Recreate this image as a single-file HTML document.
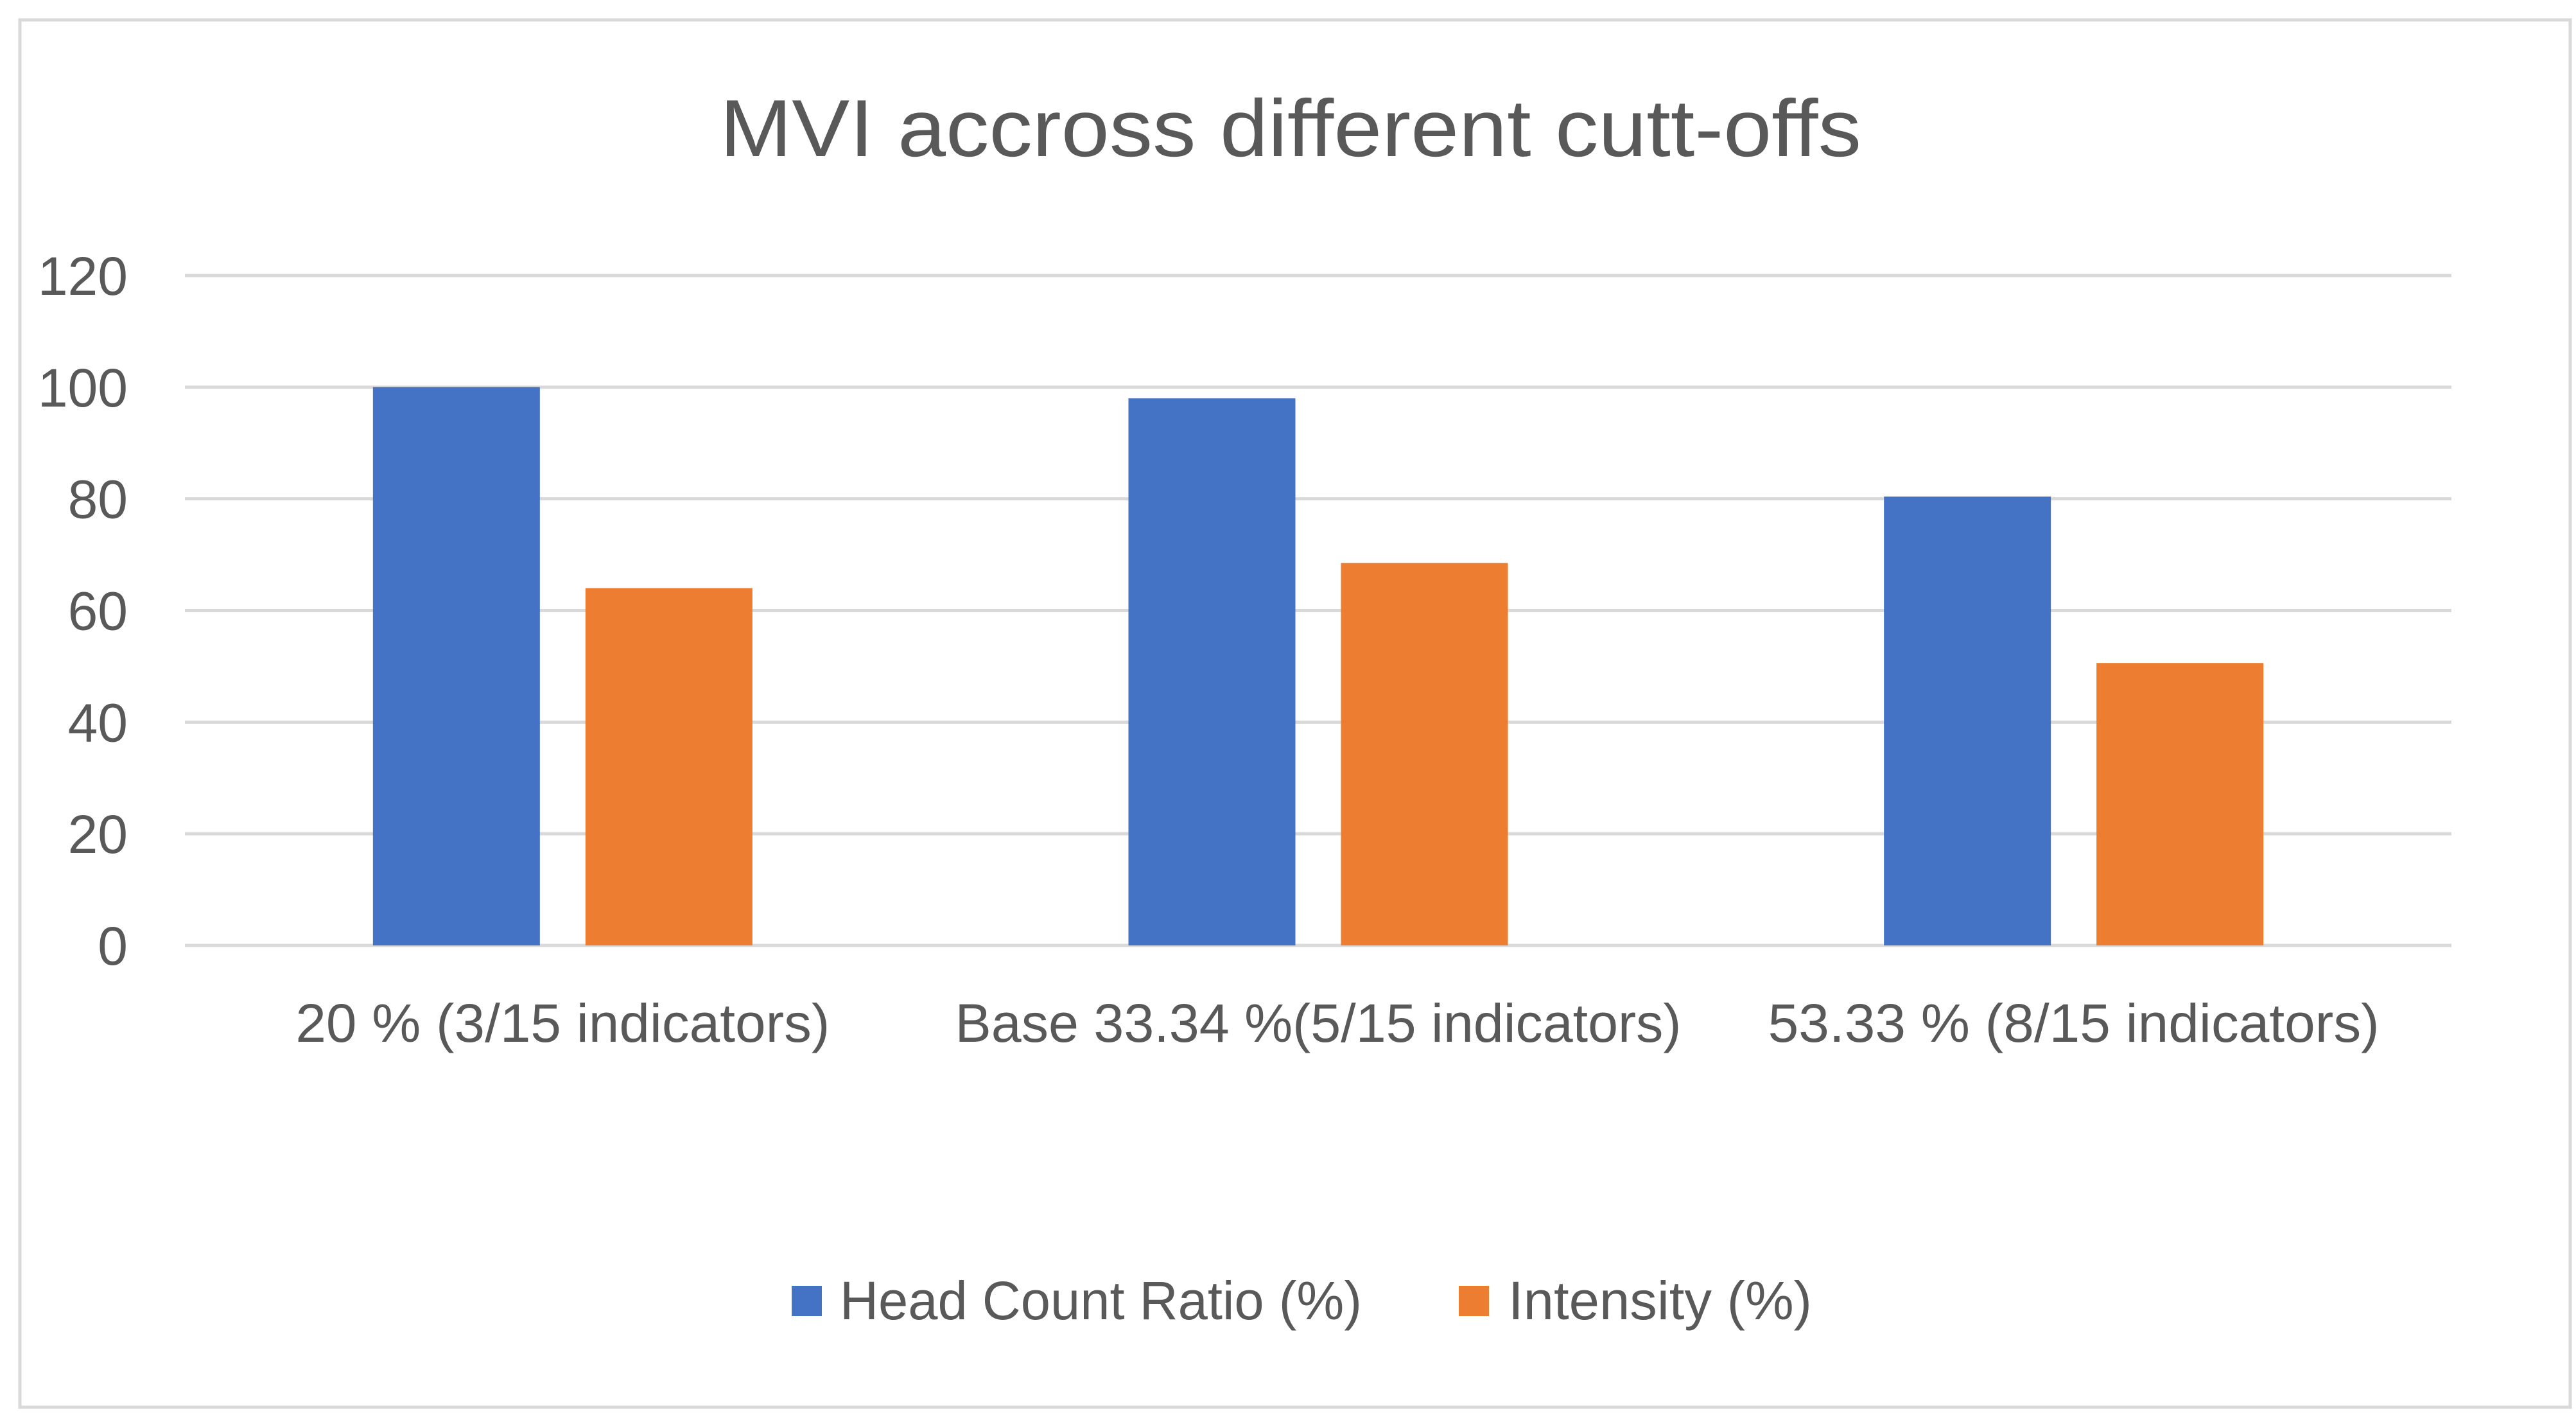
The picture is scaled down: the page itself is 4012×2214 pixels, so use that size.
<!DOCTYPE html>
<html><head><meta charset="utf-8"><style>
html,body{margin:0;padding:0;background:#fff;}
svg{display:block;font-family:"Liberation Sans",sans-serif;}
</style></head><body>
<svg id="chart" width="4012" height="2214" viewBox="0 0 4012 2214" xmlns="http://www.w3.org/2000/svg">
<rect x="31" y="31" width="3972" height="2160" fill="#fff" stroke="#d9d9d9" stroke-width="5"/>
<text x="2010" y="243" text-anchor="middle" font-size="126" fill="#595959" textLength="1778" lengthAdjust="spacingAndGlyphs">MVI accross different cutt-offs</text>
<g id="grid"></g>
<g id="bars"></g>
<g id="labels"></g>
<g>
<rect x="1233" y="2002" width="47" height="47" fill="#4472c4"/>
<text x="1308" y="2054" font-size="84" fill="#595959" textLength="813" lengthAdjust="spacingAndGlyphs">Head Count Ratio (%)</text>
<rect x="2272" y="2002" width="47" height="47" fill="#ed7d31"/>
<text x="2349" y="2054" font-size="84" fill="#595959" textLength="473" lengthAdjust="spacingAndGlyphs">Intensity (%)</text>
</g>
</svg>
<script>
const categories = ["20 % (3/15 indicators)", "Base 33.34 %(5/15 indicators)", "53.33 % (8/15 indicators)"];
const headCount = [100, 98, 80.4];
const intensity = [64, 68.5, 50.6];
const yTicks = [0, 20, 40, 60, 80, 100, 120];

const NS = "http://www.w3.org/2000/svg";
const plotL = 288, plotR = 3818, y0 = 1472, yTop = 429, yMax = 120;
const yScale = v => y0 - (v / yMax) * (y0 - yTop);
const catW = (plotR - plotL) / categories.length;
const xCenter = i => plotL + catW * (i + 0.5);
const barW = 260, gap = 71;
const labelWidths = [832, 1131, 952];

function mk(tag, attrs, parent) {
  const e = document.createElementNS(NS, tag);
  for (const k in attrs) e.setAttribute(k, attrs[k]);
  parent.appendChild(e);
  return e;
}
const grid = document.getElementById('grid');
const bars = document.getElementById('bars');
const labels = document.getElementById('labels');

yTicks.forEach(t => {
  const y = yScale(t);
  const ln = mk('line', {x1: plotL, x2: plotR, y1: y, y2: y, stroke: '#d9d9d9', 'stroke-width': 5}, grid);
  
  
  const tx = mk('text', {x: 199, y: y + 30, 'text-anchor': 'end', 'font-size': 84, fill: '#595959'}, labels);
  tx.textContent = t;
  
  
});

categories.forEach((c, i) => {
  const cx = xCenter(i);
  const b1 = mk('rect', {x: cx - gap / 2 - barW, y: yScale(headCount[i]), width: barW, height: y0 - yScale(headCount[i]), fill: '#4472c4'}, bars);
  
  
  const b2 = mk('rect', {x: cx + gap / 2, y: yScale(intensity[i]), width: barW, height: y0 - yScale(intensity[i]), fill: '#ed7d31'}, bars);
  
  
  const tx = mk('text', {x: cx, y: 1622, 'text-anchor': 'middle', 'font-size': 84, fill: '#595959', textLength: labelWidths[i], lengthAdjust: 'spacingAndGlyphs'}, labels);
  tx.textContent = c;
  
  
});
</script>
</body></html>
